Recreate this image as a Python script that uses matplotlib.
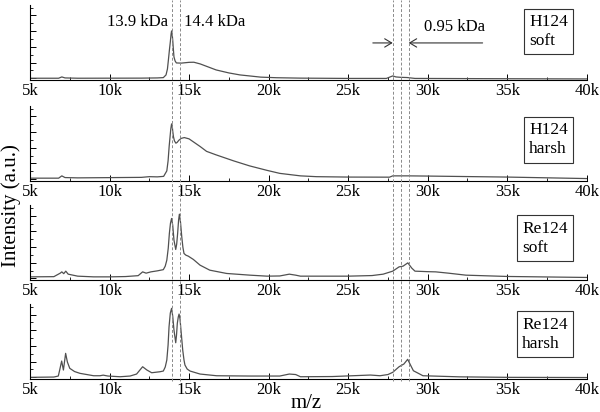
#!/usr/bin/env python3
"""Stacked MALDI spectra: H124 / Re124, soft vs harsh conditions."""

import matplotlib

matplotlib.use("Agg")
import matplotlib.pyplot as plt
import numpy as np
from matplotlib.lines import Line2D
from matplotlib.ticker import FixedLocator, MultipleLocator
from matplotlib.transforms import blended_transform_factory

plt.rcParams["font.family"] = ["Liberation Serif", "DejaVu Serif"]

# m/z (Da) and intensity (a.u.)
h124_soft_mz = [5000, 6800, 7000, 7200, 8000, 12000, 13000, 13380, 13550, 13640, 13700, 13770,
                13820, 13870, 13900, 13935, 13970, 14010, 14050, 14120, 14200, 14500, 15000,
                15300, 15700, 16200, 16700, 17500, 18200, 18800, 19500, 20500, 22000, 25000,
                27400, 27800, 28000, 28300, 28700, 29200, 35000, 40000]
h124_soft_int = [1.7, 1.7, 3.0, 2.0, 1.7, 1.8, 2.0, 2.3, 5, 11, 20, 31,
                 38, 46, 49, 46, 40, 31, 23, 19, 17, 16.8, 17.6,
                 17.7, 16, 13, 10, 7, 5, 4, 2.8, 2.2, 1.8, 1.5,
                 1.5, 4, 3, 2.6, 2.4, 1.5, 1.2, 1.0]

h124_harsh_mz = [5000, 6800, 7000, 7200, 8000, 12000, 12500, 13000, 13400, 13600, 13680, 13750,
                 13850, 13900, 13940, 13970, 14020, 14080, 14170, 14250, 14350, 14500, 14700,
                 15000, 15700, 16100, 16700, 17800, 18800, 19900, 20700, 22000, 23000, 25000,
                 27600, 27800, 28800, 30000, 35000, 40000]
h124_harsh_int = [2.7, 2.7, 5, 3.3, 3.0, 3.5, 4.2, 4, 4.5, 10, 20, 35,
                  52, 57, 55, 50, 44, 40, 37.7, 38.5, 40.5, 42.5, 43.3,
                  42, 34.3, 29.5, 26, 20, 15, 10.5, 7.5, 5, 4.2, 3.8,
                  3.7, 5, 5, 4.8, 3.8, 2.3]

re124_soft_mz = [5000, 6500, 6900, 7000, 7120, 7250, 7400, 8000, 9000, 10000, 11000, 11800,
                 12080, 12300, 12600, 13000, 13380, 13500, 13600, 13690, 13760, 13830, 13900,
                 13970, 14050, 14160, 14220, 14280, 14340, 14390, 14460, 14540, 14610, 14680,
                 14800, 14950, 15270, 15690, 16300, 17360, 18830, 19900, 20700, 21300, 21700,
                 22000, 25000, 26500, 27200, 27800, 28200, 28450, 28750, 29000, 29200, 30000,
                 30500, 31300, 32400, 35000, 40000]
re124_soft_int = [3.3, 3.5, 7, 8.3, 6.5, 9, 6, 4, 3.3, 3.3, 3.6, 4.5,
                  8.3, 7, 8.3, 9.3, 10.5, 14, 20, 32, 46.7, 57, 61.7,
                  55, 40, 30.7, 36, 46.7, 60, 66, 58, 43.3, 33, 26.7,
                  25, 24, 20.7, 15, 10, 6.7, 5, 4, 4.2, 6, 5,
                  4, 4, 4.6, 6, 9, 13.3, 14, 17.3, 12, 9, 8.5,
                  8.3, 7, 5, 3.7, 2.7]

re124_harsh_mz = [5000, 6500, 6780, 6880, 6990, 7100, 7240, 7350, 7500, 7800, 8140, 9000,
                  9400, 9600, 9900, 10660, 11290, 11700, 12080, 12350, 12650, 13170, 13380,
                  13500, 13600, 13680, 13740, 13820, 13900, 13970, 14050, 14160, 14210, 14260,
                  14320, 14370, 14430, 14490, 14600, 14680, 14740, 14880, 15060, 15690, 16730,
                  18830, 20700, 21300, 21700, 22000, 24000, 26400, 27000, 27500, 27800, 28200,
                  28500, 28740, 28950, 29100, 29700, 32000, 35000, 40000]
re124_harsh_int = [1.7, 2.0, 3, 10, 18, 9, 25.7, 17, 10.7, 7.5, 5.7, 3.3,
                   3.3, 3.9, 3, 2.3, 3, 5, 12.3, 9, 6.3, 7.3, 8,
                   12, 19, 34, 52.3, 66, 70.7, 63, 49, 36.3, 44, 55.7,
                   62, 65, 60, 49, 29, 19, 14, 10, 8, 5, 3.3,
                   3, 3, 5, 4.5, 2.3, 2.5, 4, 3.3, 4.5, 6.7, 12.3,
                   15, 19.7, 13, 8.3, 3.3, 2.2, 1.7, 1.5]

panel_labels = ["H124\nsoft", "H124\nharsh", "Re124\nsoft", "Re124\nharsh"]
ref_lines = [13900, 14400, 27800, 28300, 28800]
x_ticks = [5000, 10000, 15000, 20000, 25000, 30000, 35000, 40000]
x_tick_labels = ["5k", "10k", "15k", "20k", "25k", "30k", "35k", "40k"]

spectra = [
    (h124_soft_mz, h124_soft_int),
    (h124_harsh_mz, h124_harsh_int),
    (re124_soft_mz, re124_soft_int),
    (re124_harsh_mz, re124_harsh_int),
]


def main() -> None:
    fig = plt.figure(figsize=(6.0, 4.12), dpi=100)
    left, width, height = 0.05, 0.928, 0.182
    bottoms = [0.806, 0.561, 0.320, 0.080]
    label_y = [0.644, 0.547, 0.56, 0.60]

    axes = []
    for i, (mz, inten) in enumerate(spectra):
        ax = fig.add_axes([left, bottoms[i], width, height])
        ax.plot(mz, inten, color="#505050", lw=0.9)
        ax.set_xlim(5000, 40000)
        ax.set_ylim(0, 75)
        ax.spines["top"].set_visible(False)
        ax.spines["right"].set_visible(False)
        ax.spines["left"].set_linewidth(0.8)
        ax.spines["bottom"].set_linewidth(0.8)
        ax.set_xticks(x_ticks)
        ax.set_xticklabels(x_tick_labels, fontsize=12)
        ax.xaxis.set_minor_locator(MultipleLocator(2500))
        ax.yaxis.set_major_locator(FixedLocator(np.arange(1.7, 75, 15.7)))
        ax.yaxis.set_minor_locator(FixedLocator(np.arange(1.7 + 7.85, 75, 15.7)))
        ax.set_yticklabels([])
        ax.tick_params(which="major", direction="in", length=4, width=0.7, pad=2)
        ax.tick_params(which="minor", direction="in", length=2, width=0.6)
        ax.text(0.966, label_y[i], panel_labels[i], transform=ax.transAxes,
                ha="right", va="center", multialignment="left", fontsize=12.5,
                linespacing=1.25,
                bbox=dict(boxstyle="square,pad=0.3", fc="white", ec="#333333", lw=0.8))
        axes.append(ax)

    ax1 = axes[0]
    trans = blended_transform_factory(ax1.transData, fig.transFigure)
    for x in ref_lines:
        fig.add_artist(Line2D([x, x], [bottoms[-1] - 0.005, 1.0], transform=trans,
                              color="#8a8a8a", lw=0.7, linestyle=(0, (3, 2))))

    ax1.text(13650, 58, "13.9 kDa", ha="right", va="center", fontsize=12)
    ax1.text(14650, 58, "14.4 kDa", ha="left", va="center", fontsize=12)
    ax1.text(31700, 53, "0.95 kDa", ha="center", va="center", fontsize=12)
    arrow = dict(arrowstyle="->,head_length=0.5,head_width=0.3", lw=0.8,
                 color="#333333", shrinkA=0, shrinkB=0)
    ax1.annotate("", xy=(27800, 37), xytext=(26550, 37), arrowprops=arrow)
    ax1.annotate("", xy=(28800, 37), xytext=(33450, 37), arrowprops=arrow)

    fig.text(0.018, 0.50, "Intensity (a.u.)", rotation=90, ha="center", va="center", fontsize=15)
    fig.text(0.51, 0.02, "m/z", ha="center", va="center", fontsize=15)

    fig.savefig("out.png", dpi=100)
    plt.close(fig)


if __name__ == "__main__":
    main()
